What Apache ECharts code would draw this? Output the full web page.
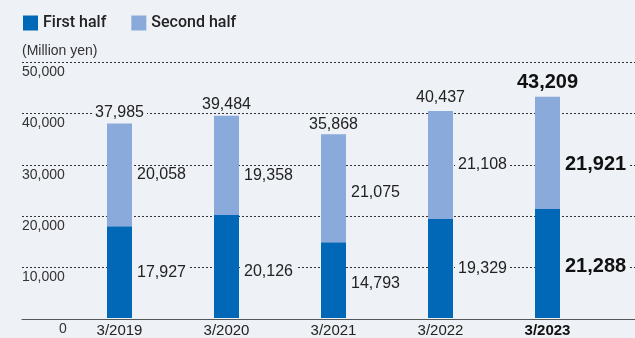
<!DOCTYPE html>
<html><head><meta charset="utf-8">
<script src="https://cdn.jsdelivr.net/npm/echarts@6/dist/echarts.min.js"></script>
<style>html,body{margin:0;padding:0;background:#eef1f5;}#c{width:635px;height:338px;}</style>
</head><body><div id="c"></div>
<script>
const categories = ['3/2019', '3/2020', '3/2021', '3/2022', '3/2023'];
const firstHalf = [17927, 20126, 14793, 19329, 21288];
const secondHalf = [20058, 19358, 21075, 21108, 21921];
const totals = [37985, 39484, 35868, 40437, 43209];
const yMin = 0, yMax = 50000, yStep = 10000;
const unitLabel = '(Million yen)';
const seriesNames = ['First half', 'Second half'];

// styling (label nudges as laid out in the reference)
const BG = '#eef1f5';
const C1 = '#0068b7', C2 = '#8aaadb';
const hi = 4;
const shiftFirst = [0, 5, 3, 0, 3];
const shiftSecond = [0, 10, 4, 0, 12];
const shiftTotal = [0, 0, 1, -2, -1];
const fmt = v => v.toLocaleString('en-US');
const VF = 'Liberation Sans, Arial, sans-serif';

function lbl(i, shift, pos) {
  const bold = i === hi;
  return {
    show: true, position: pos, distance: pos === 'top' ? 3 : 2,
    offset: [0, shift[i]],
    fontFamily: VF, fontSize: bold ? 20 : 16, fontWeight: bold ? 'bold' : 'normal',
    color: bold ? '#111' : '#222', backgroundColor: BG, padding: [0, 3],
    formatter: p => fmt(p.value)
  };
}

const chart = echarts.init(document.getElementById('c'), null, {renderer: 'canvas'});
chart.setOption({
  backgroundColor: BG,
  animation: false,
  legend: {
    left: 23, top: 15, padding: 0, itemWidth: 15, itemHeight: 15, itemGap: 25, icon: 'rect',
    data: seriesNames,
    textStyle: {fontFamily: 'Roboto, sans-serif', fontWeight: 500, fontSize: 16, color: '#222'}
  },
  grid: [
    {left: 22, right: 0, top: 62, bottom: 19},
    {left: 66, right: 34, top: 62, bottom: 19}
  ],
  xAxis: [
    {gridIndex: 0, type: 'value', min: 0, max: 1, axisLine: {show: true, lineStyle: {color: '#555', width: 1.2}},
     axisTick: {show: false}, axisLabel: {show: false}, splitLine: {show: false}},
    {gridIndex: 1, type: 'category', data: categories, axisLine: {show: false}, axisTick: {show: false},
     axisLabel: {margin: 5, fontFamily: VF, fontSize: 15, color: '#222',
       formatter: (v, i) => i === hi ? '{b|' + v + '}' : v,
       rich: {b: {fontFamily: VF, fontSize: 15, fontWeight: 'bold', color: '#111'}}}}
  ],
  yAxis: [
    {gridIndex: 0, type: 'value', min: yMin, max: yMax, interval: yStep,
     name: unitLabel, nameLocation: 'end', nameGap: 4,
     nameTextStyle: {align: 'left', verticalAlign: 'bottom', fontFamily: VF, fontSize: 14, color: '#333'},
     axisLine: {show: false}, axisTick: {show: false},
     axisLabel: {inside: true, margin: 0, verticalAlign: 'top', padding: [3, 0, 0, 0],
       fontFamily: VF, fontSize: 14, color: '#333',
       formatter: v => v === 0 ? '{z|0}' : fmt(v),
       rich: {z: {padding: [0, 0, 0, 37], fontFamily: VF, fontSize: 14, color: '#333'}}},
     splitLine: {show: true, lineStyle: {color: '#333', width: 1, type: [2, 2]}}},
    {gridIndex: 1, type: 'value', min: yMin, max: yMax, interval: yStep, show: false,
     splitLine: {show: false}}
  ],
  series: [
    {name: seriesNames[0], type: 'bar', xAxisIndex: 1, yAxisIndex: 1, stack: 'a', barWidth: 25, barGap: '-100%',
     itemStyle: {color: C1}, z: 3,
     data: firstHalf.map((v, i) => ({value: v, label: lbl(i, shiftFirst, 'right')}))},
    {name: seriesNames[1], type: 'bar', xAxisIndex: 1, yAxisIndex: 1, stack: 'a', barWidth: 25, barGap: '-100%',
     itemStyle: {color: C2}, z: 3,
     data: secondHalf.map((v, i) => ({value: v, label: lbl(i, shiftSecond, 'right')}))},
    {name: 'Total', type: 'bar', xAxisIndex: 1, yAxisIndex: 1, barWidth: 25, barGap: '-100%',
     itemStyle: {color: 'rgba(0,0,0,0)'}, z: 2, silent: true,
     data: totals.map((v, i) => ({value: v, label: lbl(i, shiftTotal, 'top')}))}
  ]
});
</script></body></html>
